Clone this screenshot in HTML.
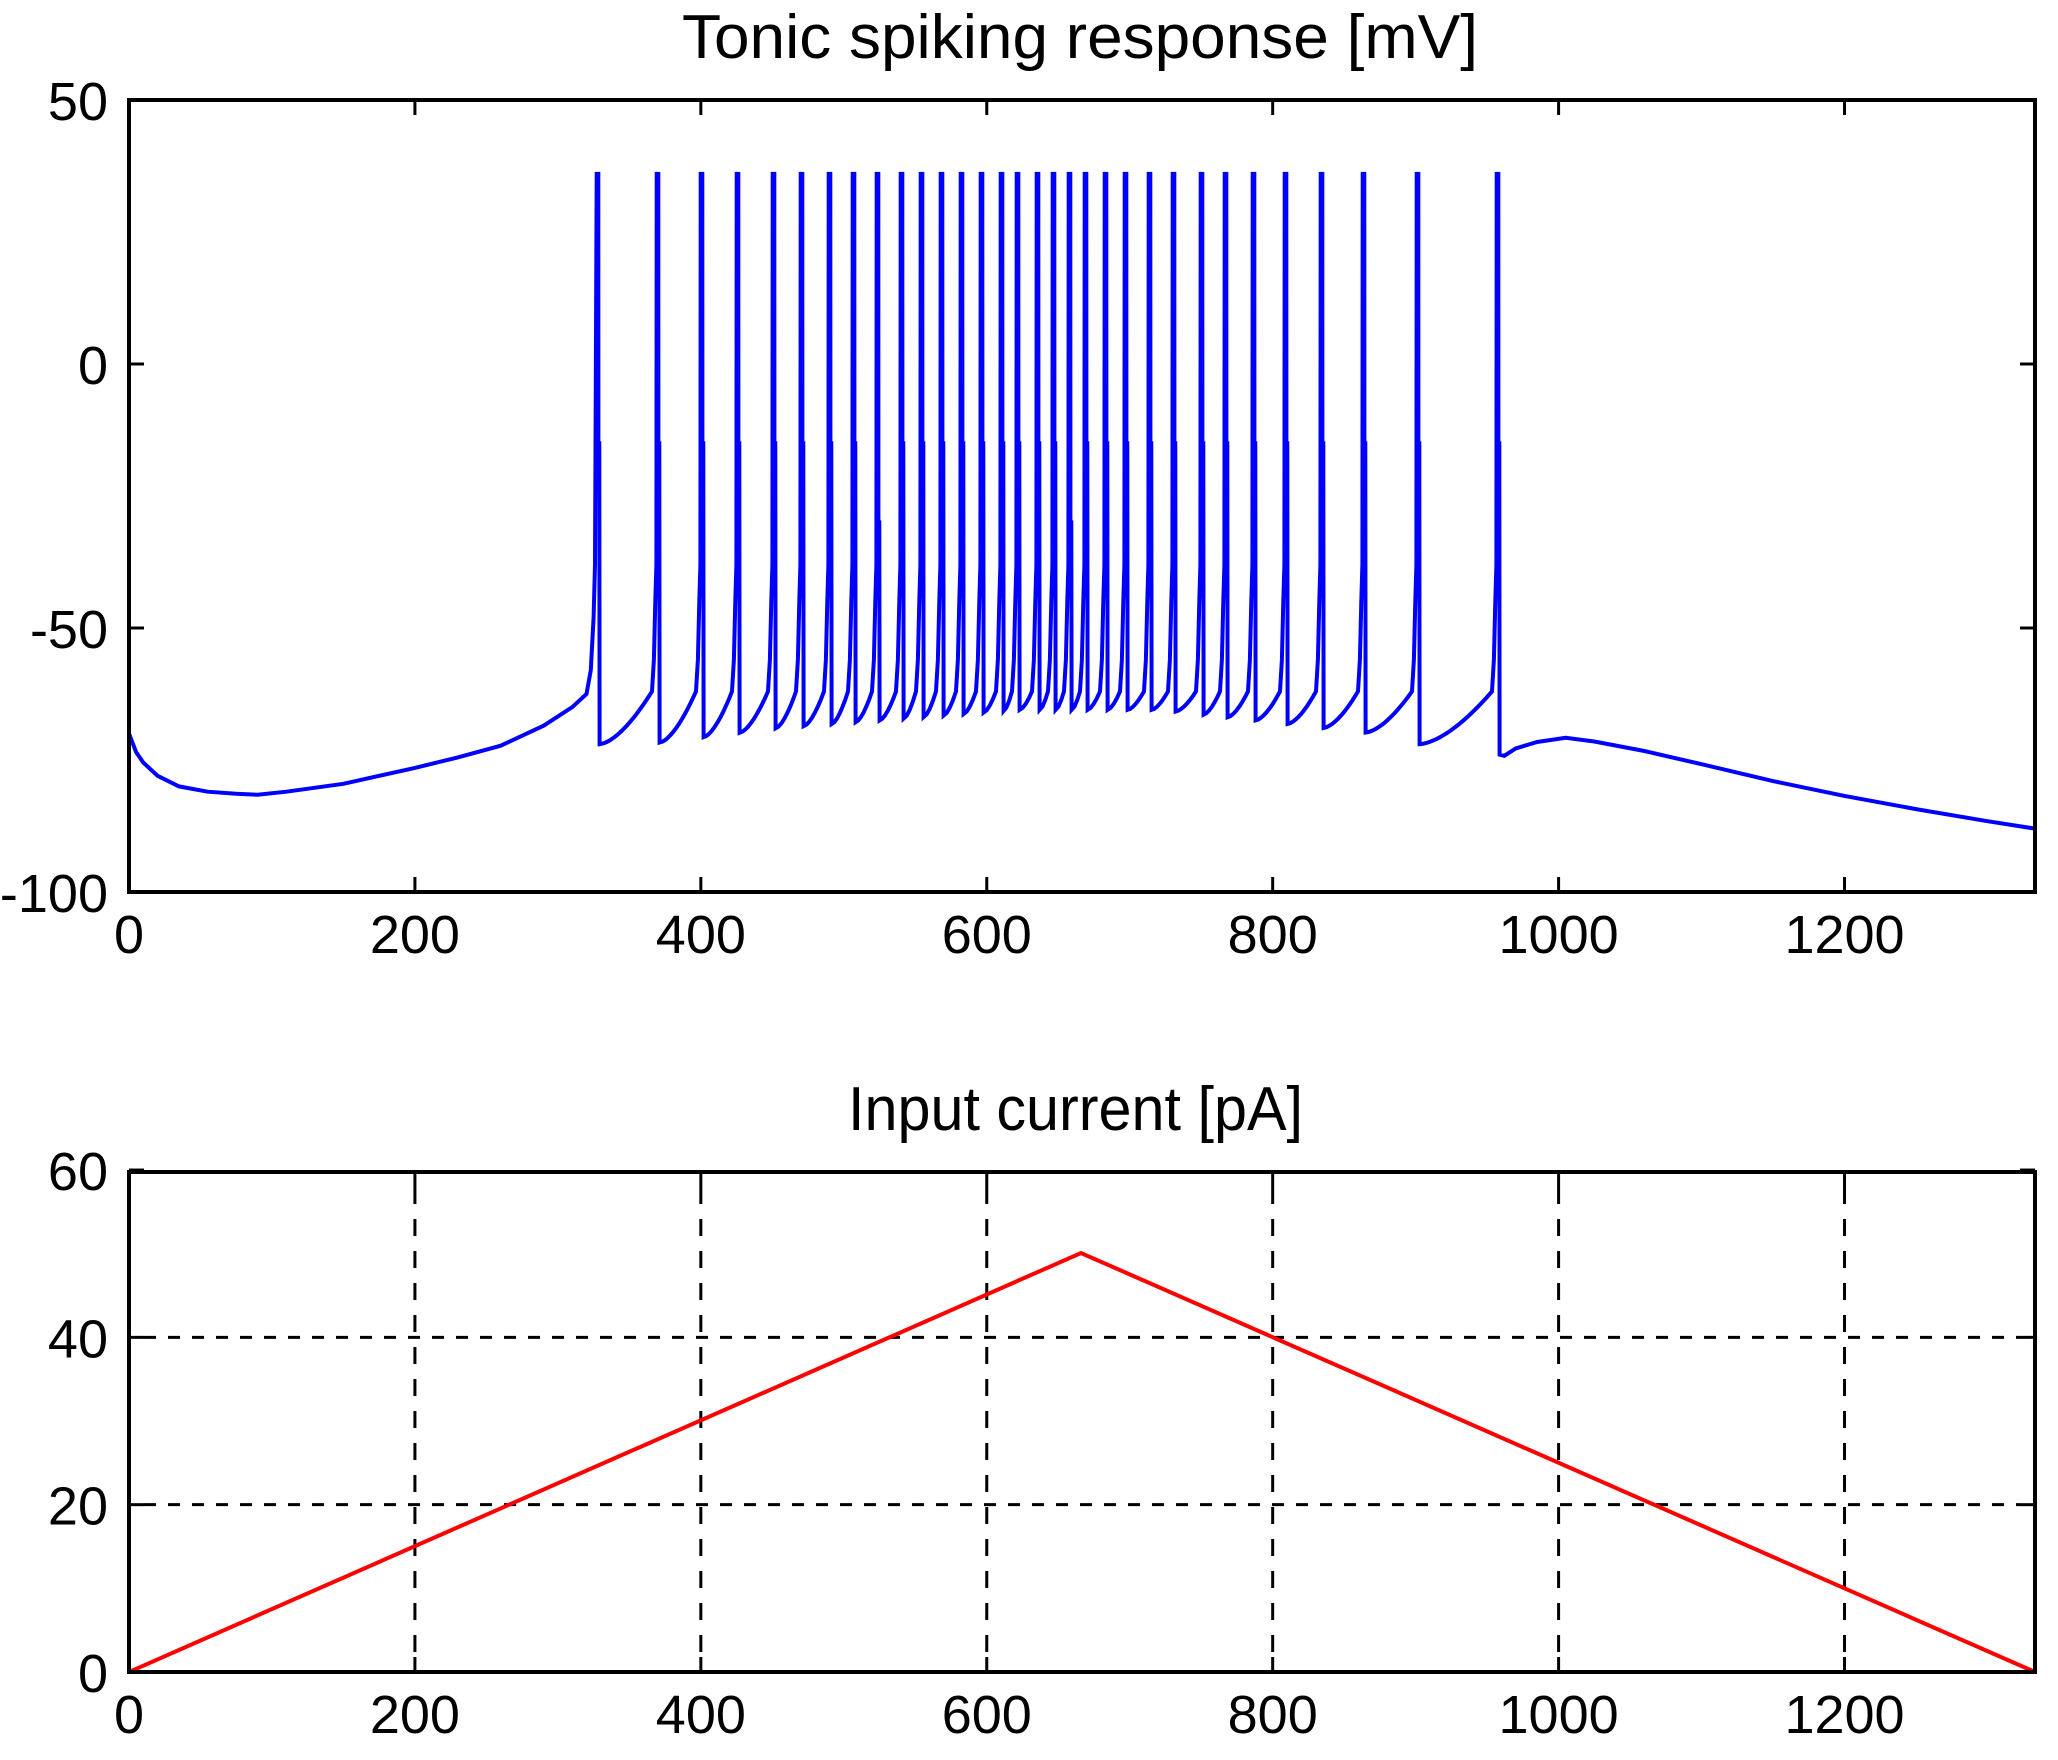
<!DOCTYPE html>
<html><head><meta charset="utf-8">
<style>
html,body{margin:0;padding:0;background:#fff;}
svg{display:block;}
text{font-family:"Liberation Sans",Arial,sans-serif;fill:#000;}
</style></head>
<body>
<svg id="s" width="2058" height="1760" viewBox="0 0 2058 1760" xmlns="http://www.w3.org/2000/svg">
<rect width="2058" height="1760" fill="#fff"/>
<defs>
<clipPath id="c1"><rect x="129" y="100" width="1906" height="792"/></clipPath>
<clipPath id="c2"><rect x="129" y="1172" width="1906" height="500"/></clipPath>
</defs>
<text x="682" y="58" font-size="62" textLength="796" lengthAdjust="spacingAndGlyphs">Tonic spiking response [mV]</text>
<text x="848" y="1130" font-size="62" textLength="455" lengthAdjust="spacingAndGlyphs">Input current [pA]</text>
<g id="grid" stroke="#000" stroke-width="3" fill="none"></g>
<path id="vtrace" clip-path="url(#c1)" fill="none" stroke="#0000ff" stroke-width="4" stroke-linejoin="miter"/>
<polyline clip-path="url(#c2)" fill="none" stroke="#ff0000" stroke-width="4" points="129,1672 1081,1253 2035,1672"/>
<rect x="129" y="100" width="1906" height="792" fill="none" stroke="#000" stroke-width="4"/>
<rect x="129" y="1172" width="1906" height="500" fill="none" stroke="#000" stroke-width="4"/>
<g id="labels" font-size="54"></g>
</svg>
<script>
(function(){
var NS="http://www.w3.org/2000/svg";
function X(t){return 129+t*1.4296;}
function Y1(v){return 892-(v+100)*5.28;}
function Y2(v){return 1672-v*8.366;}
var g=document.getElementById('grid'), L=document.getElementById('labels');
function line(x1,y1,x2,y2,dash){var l=document.createElementNS(NS,'line');l.setAttribute('x1',x1);l.setAttribute('y1',y1);l.setAttribute('x2',x2);l.setAttribute('y2',y2);if(dash)l.setAttribute('stroke-dasharray',dash);g.appendChild(l);}
function txt(x,y,s,anchor){var t=document.createElementNS(NS,'text');t.setAttribute('x',x);t.setAttribute('y',y);t.setAttribute('text-anchor',anchor);t.textContent=s;L.appendChild(t);}
var xt=[0,200,400,600,800,1000,1200];
xt.forEach(function(t){var x=X(t);
  line(x,892,x,877);line(x,100,x,115);
  line(x,1672,x,1657);line(x,1172,x,1187);
  if(t>0) line(x,1187,x,1657,"17 15");
  txt(x,953,String(t),'middle');txt(x,1733,String(t),'middle');});
[50,0,-50,-100].forEach(function(v){var y=Y1(v);line(129,y,144,y);line(2035,y,2020,y);txt(108,y+20,String(v),'end');});
[0,20,40,60].forEach(function(v){var y=Y2(v);line(129,y,144,y);line(2035,y,2020,y);
  if(v==20||v==40) line(144,y,2020,y,"12 12");
  txt(108,y+20,String(v),'end');});
var xs=[597,657,701,737,773,801,829,853,877,901,921,941,961,981,1001,1017,1037,1053,1069,1085,1105,1125,1149,1173,1201,1225,1253,1285,1321,1363,1417,1497];
var ts=xs.map(function(x){return (x-129)/1.4296;});
function trough(t){
  if(t<360) return -72;
  if(t<450) return -72+ (t-360)/90*3;
  if(t<620) return -69+ (t-450)/170*3.5;
  if(t<720) return -65.5;
  if(t<870) return -65.5-(t-720)/150*4.5;
  if(t<910) return -72;
  return -74;
}
var pts=[];
function P(t,v){pts.push(X(t).toFixed(1)+','+Y1(v).toFixed(1));}
var init=[[0,-70],[5,-73.5],[10,-75.5],[20,-78],[35,-80],[55,-81],[75,-81.4],[90,-81.6],[110,-81],[150,-79.5],[200,-76.5],[230,-74.5],[260,-72.3],[290,-68.5],[310,-65],[320,-62.5],[323,-58],[325,-48],[326,-38]];
init.forEach(function(p){P(p[0],p[1]);});
var mids=[-15,-15,-15,-15,-15,-15,-15,-15,-30,-15,-15,-15,-15,-15,-15,-15,-15,-15,-30,-15,-15,-15,-15,-15,-15,-15,-15,-15,-15,-15,-15,-15];
for(var i=0;i<ts.length;i++){
  var t=ts[i];
  P(t-0.2,36);P(t+0.9,36);P(t+1.0,mids[i]);P(t+1.6,mids[i]);
  var tr=trough(t);
  P(t+1.8,tr);
  if(i<ts.length-1){
    var tn=ts[i+1], d=tn-t-1.8-3.5;
    var n=Math.max(3,Math.round(d/2));
    for(var k=1;k<=n;k++){var u=k/n;P(t+1.8+d*u, tr+(-62-tr)*Math.pow(u,1.6));}
    P(tn-2.2,-56);P(tn-1.2,-45);P(tn-0.4,-38);
  }
}
var tail=[[962,-74.2],[970,-72.8],[985,-71.6],[1005,-70.8],[1025,-71.5],[1060,-73.3],[1100,-75.8],[1150,-79],[1200,-81.8],[1250,-84.3],[1300,-86.6],[1333,-88]];
tail.forEach(function(p){P(p[0],p[1]);});
document.getElementById('vtrace').setAttribute('d','M'+pts.join(' L'));
})();
</script>
</body></html>
